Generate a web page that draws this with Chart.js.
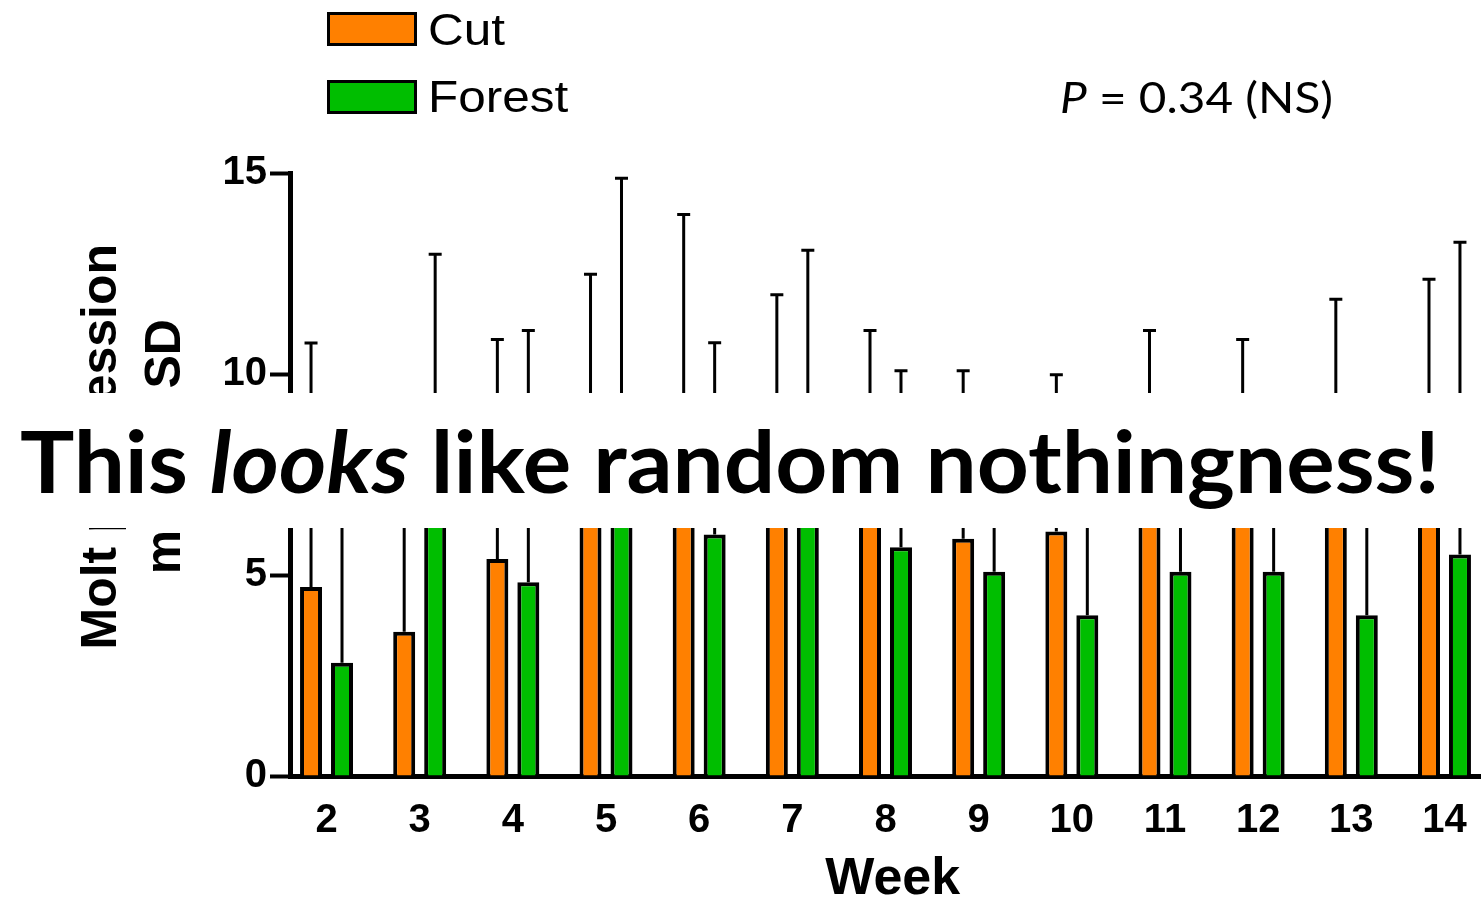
<!DOCTYPE html>
<html><head><meta charset="utf-8">
<script src="https://cdn.jsdelivr.net/npm/chart.js@4.4.1/dist/chart.umd.min.js"></script>
<style>
html,body{margin:0;padding:0;background:#fff;}
#wrap{position:relative;width:1481px;height:900px;overflow:hidden;background:#fff;}
#c{position:absolute;left:0;top:0;}
.lbox{position:absolute;box-sizing:border-box;border:3px solid #000;}
.ltxt{position:absolute;font-family:"Liberation Sans",Arial,sans-serif;font-size:45px;line-height:1;color:#000;white-space:nowrap;transform-origin:0 0;transform:scaleX(1.1);}
#ptext{position:absolute;left:1060px;font-family:Lato,"Open Sans",sans-serif;font-size:43px;line-height:1;color:#000;white-space:nowrap;transform-origin:0 0;}
#band{position:absolute;left:0;top:393px;width:1481px;height:135px;background:#fff;}
#msg{position:absolute;left:20px;font-family:Lato,"Open Sans",sans-serif;font-weight:700;font-size:86px;line-height:1;color:#000;white-space:nowrap;transform-origin:0 0;}
</style></head>
<body>
<div id="wrap">
<canvas id="c" width="1481" height="900"></canvas>
<div id="legend"></div>
<div id="ptext"><i>P</i> = 0.34 (NS)</div>
<div id="band"><div id="msg">This <i>looks</i> like random nothingness!</div></div>
</div>
<script>
// ---- data ----
const weeks = [2, 3, 4, 5, 6, 7, 8, 9, 10, 11, 12, 13, 14];
const cutMean = [4.70, 3.59, 5.40, 7.80, 8.30, 7.40, 7.00, 5.90, 6.08, 6.90, 6.80, 7.20, 7.60];
const cutSD = [6.07, 4.61, 5.46, 4.68, 5.67, 4.57, 4.08, 4.18, 3.90, 4.18, 4.06, 4.66, 4.76];
const forestMean = [2.82, 7.60, 4.82, 8.60, 6.01, 8.00, 5.69, 5.08, 4.00, 5.08, 5.08, 4.00, 5.51];
const forestSD = [4.78, 5.38, 6.26, 6.27, 4.77, 5.08, 4.39, 3.42, 4.00, 3.52, 3.22, 4.10, 7.77];
const yTicks = [0, 5, 10, 15];
const seriesNames = ['Cut', 'Forest'];

Chart.defaults.font.family = "'Liberation Sans', Arial, sans-serif";
Chart.defaults.color = '#000';

const errorBars = {
  id: 'errorBars',
  afterDatasetsDraw(chart) {
    const ctx = chart.ctx, y = chart.scales.y;
    ctx.save();
    ctx.strokeStyle = '#000';
    ctx.lineWidth = 3;
    chart.data.datasets.forEach((ds, i) => {
      const meta = chart.getDatasetMeta(i);
      meta.data.forEach((bar, j) => {
        const m = ds.data[j].y, sd = ds.sd[j];
        const x = bar.x, y0 = y.getPixelForValue(m), y1 = y.getPixelForValue(m + sd);
        ctx.beginPath();
        ctx.moveTo(x, y0); ctx.lineTo(x, y1);
        ctx.moveTo(x - 6.5, y1); ctx.lineTo(x + 6.5, y1);
        ctx.stroke();
      });
    });
    ctx.restore();
  }
};

const chart = new Chart(document.getElementById('c'), {
  type: 'bar',
  data: {
    datasets: [
      { label: seriesNames[0], data: weeks.map((w, i) => ({ x: w, y: cutMean[i] })), sd: cutSD,
        backgroundColor: '#FF8000', borderColor: '#000', borderWidth: 4 },
      { label: seriesNames[1], data: weeks.map((w, i) => ({ x: w, y: forestMean[i] })), sd: forestSD,
        backgroundColor: '#00BE00', borderColor: '#000', borderWidth: 4 }
    ]
  },
  options: {
    responsive: false,
    animation: false,
    devicePixelRatio: 1,
    categoryPercentage: 0.665,
    barPercentage: 0.71,
    layout: { padding: { top: 173, right: -4, bottom: 0, left: 0 } },
    plugins: { legend: { display: false }, tooltip: { enabled: false } },
    scales: {
      x: {
        type: 'linear', min: 1.608, max: 14.392, offset: false,
        grid: { display: false },
        border: { display: true, color: '#000', width: 5 },
        ticks: { font: { size: 40, weight: 'bold' }, color: '#000', padding: 13, autoSkip: false, maxRotation: 0,
                 callback: v => String(v) },
        afterBuildTicks: s => { s.ticks = weeks.map(w => ({ value: w })); },
        afterFit: s => { s.height = 124; },
        title: { display: true, text: ' Week', color: '#000', font: { size: 52, weight: 'bold', lineHeight: 0.78 },
                 padding: { top: 0, bottom: 0 } }
      },
      y: {
        min: 0, max: 15,
        afterBuildTicks: s => { s.ticks = yTicks.map(v => ({ value: v })); },
        grid: { drawOnChartArea: false, drawTicks: true, tickLength: 20, tickWidth: 4, tickColor: '#000', color: '#000' },
        border: { display: true, color: '#000', width: 5 },
        ticks: { font: { size: 40, weight: 'bold' }, color: '#000', padding: 3 },
        afterFit: s => { s.width = 290; },
        title: { display: true, text: ['    Molt progression', '    mean ± SD'], color: '#000',
                 font: { size: 50, weight: 'bold', lineHeight: 1.28 }, padding: { top: 70, bottom: 0 } }
      }
    }
  },
  plugins: [errorBars]
});

// HTML legend built from the chart's datasets
const legend = document.getElementById('legend');
const tops = [12, 80], baselines = [45, 112];
chart.data.datasets.forEach((ds, i) => {
  const b = document.createElement('div');
  b.className = 'lbox';
  b.style.cssText = `left:327px;top:${tops[i]}px;width:90px;height:34px;background:${ds.backgroundColor};`;
  legend.appendChild(b);
  const t = document.createElement('div');
  t.className = 'ltxt';
  t.textContent = ds.label;
  t.style.left = '428px';
  t.style.top = (baselines[i] - 0.8465 * 45) + 'px';
  legend.appendChild(t);
});

// fit overlay texts
const msg = document.getElementById('msg');
msg.style.top = (100 - 0.887 * 86) + 'px';
msg.style.transform = `scaleX(${1420 / msg.getBoundingClientRect().width})`;
const pt = document.getElementById('ptext');
pt.style.top = (113 - 0.887 * 43) + 'px';
pt.style.transform = `scaleX(${273 / pt.getBoundingClientRect().width})`;
</script>
</body></html>
